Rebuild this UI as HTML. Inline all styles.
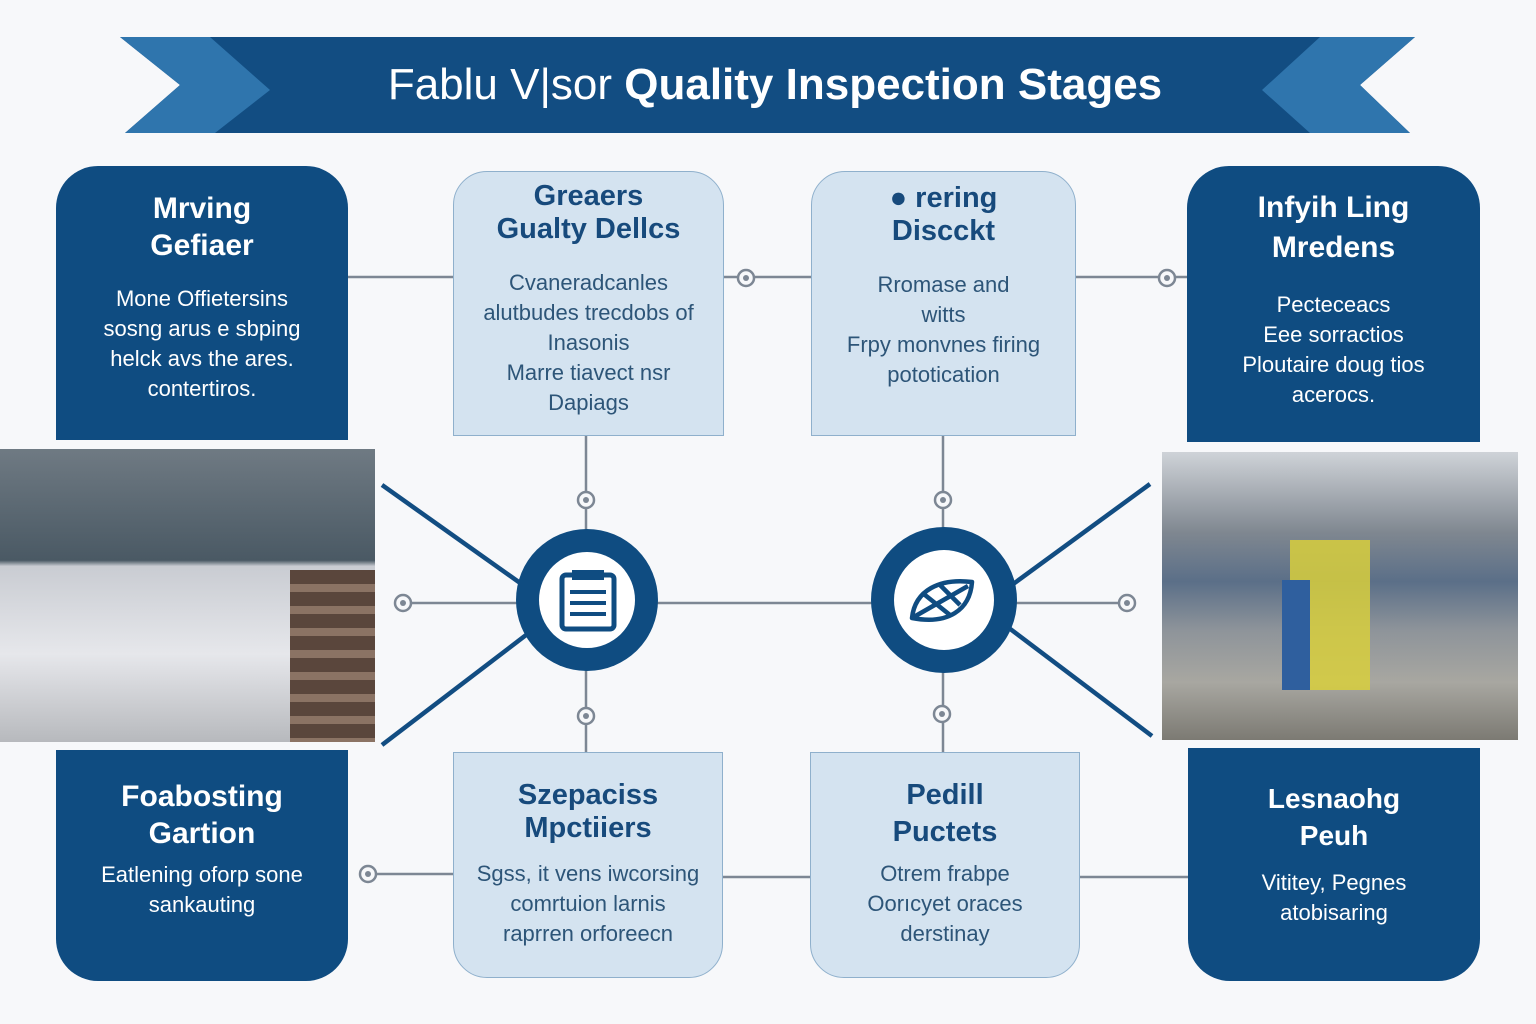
<!DOCTYPE html>
<html><head><meta charset="utf-8">
<style>
html,body{margin:0;padding:0;}
body{width:1536px;height:1024px;background:#f7f8fa;position:relative;overflow:hidden;font-family:"Liberation Sans","DejaVu Sans",sans-serif;}
.abs{position:absolute;}
.dark{background:#0f4c81;color:#fff;text-align:center;box-sizing:border-box;}
.light{background:#d4e3f0;border:1.5px solid #8fb0cc;color:#1e4e79;text-align:center;box-sizing:border-box;}
.h{font-weight:bold;font-size:30px;line-height:37px;}
.dark .h{color:#fff;}
.light .h{color:#174a7c;font-size:29px;line-height:33px;}
.p{font-size:22px;line-height:30px;}
.light .p{color:#2d5578;}
</style></head><body>
<svg class="abs" style="left:0;top:0" width="1536" height="1024">
  <!-- banner -->
  <polygon points="120,37 1415,37 1360,85 1410,133 125,133 180,85" fill="#124d82"/>
  <polygon points="120,37 210,37 270,90 215,133 125,133 180,85" fill="#2f75ad"/>
  <polygon points="1415,37 1320,37 1262,90 1310,133 1410,133 1360,85" fill="#2f75ad"/>
  <!-- connectors -->
  <g stroke="#7d8794" stroke-width="2.5" fill="none">
    <line x1="348" y1="277" x2="453" y2="277"/>
    <line x1="724" y1="277" x2="811" y2="277"/>
    <line x1="1076" y1="277" x2="1187" y2="277"/>
    <line x1="586" y1="436" x2="586" y2="540"/>
    <line x1="943" y1="436" x2="943" y2="540"/>
    <line x1="586" y1="660" x2="586" y2="752"/>
    <line x1="943" y1="660" x2="943" y2="752"/>
    <line x1="400" y1="603" x2="520" y2="603"/>
    <line x1="655" y1="603" x2="875" y2="603"/>
    <line x1="1010" y1="603" x2="1130" y2="603"/>
    <line x1="365" y1="874" x2="453" y2="874"/>
    <line x1="723" y1="877" x2="810" y2="877"/>
    <line x1="1080" y1="877" x2="1188" y2="877"/>
  </g>
  <g stroke="#124d82" stroke-width="4.5">
    <line x1="382" y1="485" x2="530" y2="590"/>
    <line x1="382" y1="745" x2="530" y2="632"/>
    <line x1="1150" y1="484" x2="1005" y2="590"/>
    <line x1="1152" y1="736" x2="1005" y2="625"/>
  </g>
  <g fill="#f7f8fa" stroke="#7d8794" stroke-width="2.5">
    <circle cx="746" cy="278" r="8"/><circle cx="1167" cy="278" r="8"/>
    <circle cx="586" cy="500" r="8"/><circle cx="943" cy="500" r="8"/>
    <circle cx="586" cy="716" r="8"/><circle cx="942" cy="714" r="8"/>
    <circle cx="403" cy="603" r="8"/><circle cx="1127" cy="603" r="8"/>
    <circle cx="368" cy="874" r="8"/>
  </g>
  <g fill="#7d8794">
    <circle cx="746" cy="278" r="3"/><circle cx="1167" cy="278" r="3"/>
    <circle cx="586" cy="500" r="3"/><circle cx="943" cy="500" r="3"/>
    <circle cx="586" cy="716" r="3"/><circle cx="942" cy="714" r="3"/>
    <circle cx="403" cy="603" r="3"/><circle cx="1127" cy="603" r="3"/>
    <circle cx="368" cy="874" r="3"/>
  </g>
  <!-- hubs -->
  <circle cx="587" cy="600" r="71" fill="#0f4c81"/>
  <circle cx="587" cy="600" r="48" fill="#fff"/>
  <rect x="562" y="575" width="52" height="54" rx="4" fill="none" stroke="#0f4c81" stroke-width="5"/>
  <rect x="572" y="570" width="32" height="10" fill="#0f4c81"/>
  <g stroke="#0f4c81" stroke-width="4"><line x1="570" y1="592" x2="606" y2="592"/><line x1="570" y1="603" x2="606" y2="603"/><line x1="570" y1="614" x2="606" y2="614"/></g>
  <circle cx="944" cy="600" r="73" fill="#0f4c81"/>
  <circle cx="944" cy="600" r="50" fill="#fff"/>
  <path d="M912 618 C915 590 940 578 972 582 C970 610 948 625 912 618 Z M912 618 L968 586 M925 595 L950 615 M940 585 L960 605" fill="none" stroke="#0f4c81" stroke-width="4.5" stroke-linejoin="round"/>
</svg>
<div class="abs" style="left:125px;top:58px;width:1300px;text-align:center;color:#fff;font-size:44px;line-height:54px;"><span style="font-weight:300">Fablu V|sor </span><b>Quality Inspection Stages</b></div>

<!-- photos -->
<div class="abs" style="left:0;top:449px;width:375px;height:293px;background:linear-gradient(180deg,#6f7a83 0%,#4a5964 38%,#c9ccd2 40%,#e6e7eb 70%,#b7b9bd 100%);"></div>
<div class="abs" style="left:290px;top:570px;width:85px;height:172px;background:repeating-linear-gradient(180deg,#5a463c 0 14px,#8b7364 14px 22px);"></div>
<div class="abs" style="left:1162px;top:452px;width:356px;height:288px;background:linear-gradient(180deg,#cfd3d8 0%,#7f8790 28%,#5b6f88 45%,#8e949a 62%,#a8a7a1 80%,#7c7a73 100%);"></div>
<div class="abs" style="left:1290px;top:540px;width:80px;height:150px;background:#d8cf3c;opacity:.85"></div>
<div class="abs" style="left:1282px;top:580px;width:28px;height:110px;background:#2f5f9e"></div>

<!-- top boxes -->
<div class="abs dark" style="left:56px;top:166px;width:292px;height:274px;border-radius:42px 42px 0 0;padding-top:24px;">
<div class="h">Mrving<br>Gefiaer</div><div class="p" style="margin-top:20px;">Mone Offietersins<br>sosng arus e sbping<br>helck avs the ares.<br>contertiros.</div></div>
<div class="abs light" style="left:453px;top:171px;width:271px;height:265px;border-radius:34px 34px 0 0;padding-top:8px;">
<div class="h">Greaers<br>Gualty Dellcs</div><div class="p" style="margin-top:22px;">Cvaneradcanles<br>alutbudes trecdobs of<br>Inasonis<br>Marre tiavect nsr<br>Dapiags</div></div>
<div class="abs light" style="left:811px;top:171px;width:265px;height:265px;border-radius:34px 34px 0 0;padding-top:10px;">
<div class="h">● rering<br>Discckt</div><div class="p" style="margin-top:22px;">Rromase and<br>witts<br>Frpy monvnes firing<br>pototication</div></div>
<div class="abs dark" style="left:1187px;top:166px;width:293px;height:276px;border-radius:42px 42px 0 0;padding-top:22px;">
<div class="h" style="line-height:40px">Infyih Ling<br>Mredens</div><div class="p" style="margin-top:22px;">Pecteceacs<br>Eee sorractios<br>Ploutaire doug tios<br>acerocs.</div></div>

<!-- bottom boxes -->
<div class="abs dark" style="left:56px;top:750px;width:292px;height:231px;border-radius:0 0 42px 42px;padding-top:28px;">
<div class="h">Foabosting<br>Gartion</div><div class="p" style="margin-top:8px;">Eatlening oforp sone<br>sankauting</div></div>
<div class="abs light" style="left:453px;top:752px;width:270px;height:226px;border-radius:0 0 34px 34px;padding-top:26px;">
<div class="h">Szepaciss<br>Mpctiiers</div><div class="p" style="margin-top:14px;">Sgss, it vens iwcorsing<br>comrtuion larnis<br>raprren orforeecn</div></div>
<div class="abs light" style="left:810px;top:752px;width:270px;height:226px;border-radius:0 0 34px 34px;padding-top:24px;">
<div class="h" style="line-height:37px">Pedill<br>Puctets</div><div class="p" style="margin-top:8px;">Otrem frabpe<br>Oorıcyet oraces<br>derstinay</div></div>
<div class="abs dark" style="left:1188px;top:748px;width:292px;height:233px;border-radius:0 0 42px 42px;padding-top:32px;">
<div class="h" style="font-size:28px">Lesnaohg<br>Peuh</div><div class="p" style="margin-top:14px;">Vititey, Pegnes<br>atobisaring</div></div>
</body></html>
